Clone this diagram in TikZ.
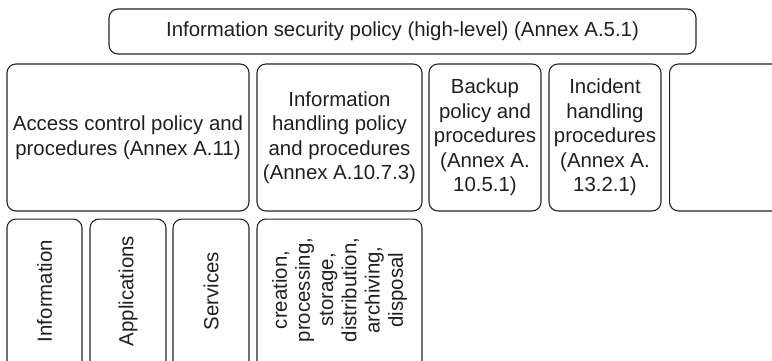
\documentclass[tikz,border=0pt]{standalone}
\usepackage{fontspec}
\setmainfont{Liberation Sans}
\begin{document}
\begin{tikzpicture}[x=1pt,y=-1pt,
  box/.style={draw=black!85, line width=1.1pt, rounded corners=9pt,
              align=center, inner sep=0pt, text=black!88,
              font=\fontsize{20.4}{24.5}\selectfont},
  txt/.style={align=center, inner sep=0pt, text=black!88,
              font=\fontsize{20.4}{24.5}\selectfont}]
\clip (0,0) rectangle (772,361);

% top-level policy
\node[box, minimum width=587pt, minimum height=45pt] (top) at (402.5,31.5)
  {Information security policy (high-level) (Annex A.5.1)};

% second row: topic-specific policies
\node[box, minimum width=242pt, minimum height=147pt] (acc) at (128,137.5)
  {Access control policy and\\procedures (Annex A.11)};
\node[box, minimum width=165pt, minimum height=147pt] (ihp) at (339.5,137.5)
  {Information\\handling policy\\and procedures\\(Annex A.10.7.3)};
\node[box, minimum width=112pt, minimum height=147pt] (bak) at (485,137.5)
  {Backup\\policy and\\procedures\\(Annex A.\\10.5.1)};
\node[box, minimum width=112pt, minimum height=147pt] (inc) at (605,137.5)
  {Incident\\handling\\procedures\\(Annex A.\\13.2.1)};
\node[box, minimum width=140pt, minimum height=147pt, anchor=west] (more) at (669,137.5) {};

% third row: boxes running off the lower edge
\node[box, minimum width=75pt, minimum height=180pt, anchor=north] (infobox) at (44.5,218.5) {};
\node[box, minimum width=76pt, minimum height=180pt, anchor=north] (appbox) at (128,218.5) {};
\node[box, minimum width=76pt, minimum height=180pt, anchor=north] (svcbox) at (211,218.5) {};
\node[box, minimum width=165pt, minimum height=180pt, anchor=north] (lifebox) at (339.5,218.5) {};

\node[txt, rotate=90] (infotxt) at (infobox.north |- 0,291) {Information};
\node[txt, rotate=90] (apptxt) at (appbox.north |- 0,291) {Applications};
\node[txt, rotate=90] (svctxt) at (svcbox.north |- 0,291) {Services};
\node[txt, rotate=90, font=\fontsize{20.4}{23.2}\selectfont] (lifetxt) at (lifebox.north |- 0,290)
  {creation,\\processing,\\storage,\\distribution,\\archiving,\\disposal};
\end{tikzpicture}
\end{document}
